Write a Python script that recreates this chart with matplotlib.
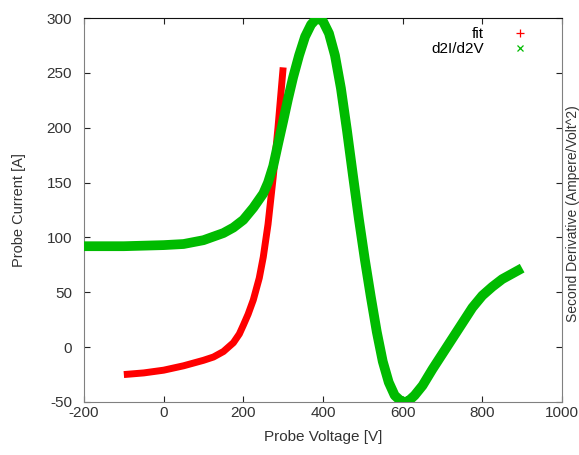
import matplotlib
matplotlib.use("Agg")
import matplotlib.pyplot as plt
from matplotlib.lines import Line2D

plt.rcParams["font.family"] = ["Liberation Sans", "DejaVu Sans"]
plt.rcParams["axes.unicode_minus"] = False

# ---- 数据----
fit_v = [-100, -50, 0, 50, 100, 125, 150, 175, 190, 200, 212, 225, 240,
         250, 262, 275, 287, 300]
fit_i = [-25, -23.5, -21, -17, -12, -9, -4, 4, 12, 20, 30, 43, 63,
         82, 112, 155, 200, 255]

d2_v = [-200, -150, -100, -50, 0, 50, 100, 150, 175, 200, 225, 250, 262,
        275, 287, 300, 312, 325, 340, 355, 370, 385, 400, 415, 430, 445,
        460, 475, 490, 505, 520, 535, 550, 565, 580, 595, 605, 615, 630,
        650, 675, 700, 725, 750, 775, 800, 825, 850, 875, 900]
d2_y = [92, 92, 92, 92.5, 93, 94, 97.5, 104, 109, 116, 127, 140, 150,
        165, 185, 206, 226, 246, 266, 283, 294, 300, 297, 286, 266, 236,
        198, 157, 117, 80, 46, 14, -13, -32, -44, -49, -50, -49, -44,
        -35, -20, -6, 8, 22, 36, 47, 55, 62, 67, 72]

x_ticks = [-200, 0, 200, 400, 600, 800, 1000]
y_ticks = [-50, 0, 50, 100, 150, 200, 250, 300]

RED = "#ff0000"
GREEN = "#00bb00"
TXT = "#333333"

fig = plt.figure(figsize=(5.79, 4.55), dpi=100)
ax = fig.add_axes([0.1451, 0.1165, 0.8255, 0.8439])

# 密集的点标记在原图里连成粗带,这里用粗线近似
ax.plot(fit_v, fit_i, "-", color=RED, lw=5, solid_capstyle="butt",
        solid_joinstyle="round", zorder=2)
ax.plot(d2_v, d2_y, "-", color=GREEN, lw=7, solid_capstyle="butt",
        solid_joinstyle="round", zorder=3)

ax.set_xlim(-200, 1000)
ax.set_ylim(-50, 300)
ax.set_xticks(x_ticks)
ax.set_yticks(y_ticks)
ax.tick_params(direction="in", top=True, right=True, length=4, width=0.8,
               labelsize=11, labelcolor=TXT, color="#222222")
ax.tick_params(axis="x", pad=3)
ax.tick_params(axis="y", pad=8.5)
for s in ["left", "bottom", "right"]:
    ax.spines[s].set_color("#808080")
ax.spines["top"].set_color("#111111")

ax.set_xlabel("Probe Voltage [V]", fontsize=11, color=TXT, labelpad=7)
ax.set_ylabel("Probe Current [A]", fontsize=10.5, color=TXT, labelpad=15)
ax.text(1.009, 0.49, "Second Derivative (Ampere/Volt^2)", transform=ax.transAxes,
        rotation=90, va="center", ha="left", fontsize=10, color=TXT)

handles = [Line2D([], [], ls="none", marker="+", color=RED, ms=6, mew=0.9),
           Line2D([], [], ls="none", marker="x", color=GREEN, ms=5, mew=0.9)]
ax.legend(handles, ["fit", "d2I/d2V"], loc="upper right", frameon=False,
          markerfirst=False, fontsize=11, handlelength=1.5, handletextpad=1.6,
          labelspacing=0.05, borderaxespad=0.2, bbox_to_anchor=(0.955, 1.0))

fig.savefig("out.png", dpi=100)
